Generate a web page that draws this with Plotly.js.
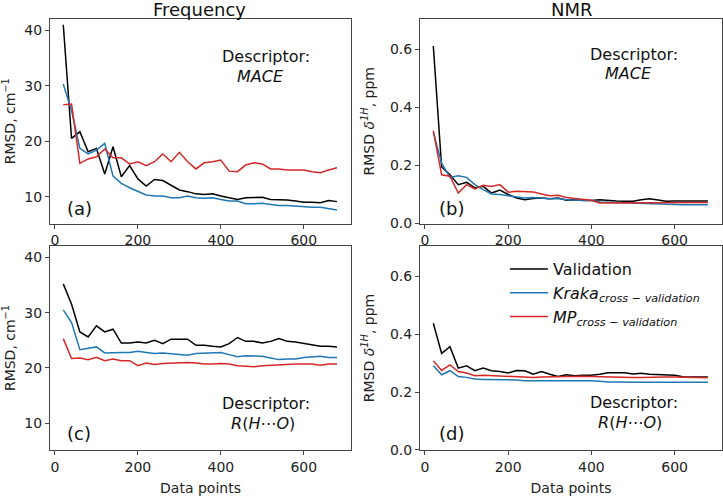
<!DOCTYPE html>
<html>
<head>
<meta charset="utf-8">
<script src="https://cdn.plot.ly/plotly-3.0.1.min.js"></script>
<style>
  html, body { margin: 0; padding: 0; background: #fff; }
  #chart { width: 723px; height: 496px; }
</style>
</head>
<body>
<div id="chart"></div>
<script>
// Training-set sizes (number of data points)
const dataPoints = [20, 40, 60, 80, 100, 120, 140, 160, 180, 200, 220, 240, 260, 280, 300, 320, 340,
                    360, 380, 400, 420, 440, 460, 480, 500, 520, 540, 560, 580, 600, 620, 640, 660, 680];

// Frequency RMSD (cm^-1), MACE descriptor
const freqMaceValidation = [41.0, 20.5, 21.7, 18.1, 18.7, 14.1, 19.0, 13.6, 15.6, 13.2, 11.9, 13.1, 12.9, 12.0, 11.2, 10.9, 10.5,
                            10.4, 10.5, 10.1, 9.8, 9.5, 9.8, 9.8, 9.9, 9.5, 9.5, 9.4, 9.2, 9.0, 9.0, 8.9, 9.3, 9.1];
const freqMaceKraka = [30.3, 25.5, 18.7, 17.7, 18.4, 19.6, 13.7, 12.4, 11.6, 10.9, 10.3, 10.1, 10.1, 9.8, 9.8, 10.1, 9.8,
                       9.7, 9.8, 9.5, 9.2, 9.2, 8.7, 8.7, 8.8, 8.6, 8.4, 8.4, 8.3, 8.1, 8.1, 8.1, 7.9, 7.6];
const freqMaceMP = [26.6, 26.7, 16.0, 16.8, 17.2, 18.6, 17.0, 17.0, 15.9, 16.3, 15.6, 16.3, 17.7, 16.3, 18.0, 16.3, 15.0,
                    16.1, 16.3, 16.6, 14.6, 14.5, 15.7, 16.1, 15.9, 15.0, 15.0, 14.8, 14.8, 14.8, 14.5, 14.3, 14.8, 15.2];

// NMR RMSD of 1H shifts (ppm), MACE descriptor
const nmrMaceValidation = [0.612, 0.195, 0.168, 0.134, 0.142, 0.123, 0.128, 0.105, 0.115, 0.100, 0.088, 0.082, 0.086, 0.088, 0.085, 0.088, 0.080,
                           0.082, 0.079, 0.079, 0.082, 0.079, 0.078, 0.077, 0.077, 0.082, 0.085, 0.081, 0.077, 0.078, 0.078, 0.079, 0.080, 0.078];
const nmrMaceKraka = [0.315, 0.208, 0.159, 0.165, 0.159, 0.134, 0.117, 0.102, 0.100, 0.096, 0.090, 0.088, 0.090, 0.088, 0.085, 0.086, 0.082,
                      0.081, 0.079, 0.079, 0.074, 0.073, 0.071, 0.072, 0.071, 0.070, 0.069, 0.068, 0.065, 0.065, 0.065, 0.065, 0.065, 0.065];
const nmrMaceMP = [0.320, 0.168, 0.163, 0.105, 0.134, 0.119, 0.132, 0.128, 0.134, 0.108, 0.111, 0.111, 0.109, 0.102, 0.096, 0.097, 0.090,
                   0.086, 0.082, 0.080, 0.071, 0.071, 0.070, 0.070, 0.070, 0.070, 0.070, 0.070, 0.070, 0.070, 0.071, 0.071, 0.072, 0.072];

// Frequency RMSD (cm^-1), R(H...O) descriptor
const freqRhoValidation = [35.2, 31.5, 26.5, 25.6, 27.6, 26.5, 27.0, 24.5, 24.5, 24.7, 24.5, 25.0, 24.4, 25.2, 25.2, 25.2, 24.1,
                           24.1, 23.9, 23.8, 24.4, 25.5, 24.8, 24.8, 24.5, 24.8, 25.3, 24.8, 24.7, 24.4, 24.1, 23.9, 23.9, 23.8];
const freqRhoKraka = [30.5, 28.2, 23.3, 23.5, 23.8, 22.7, 22.8, 22.8, 22.8, 23.0, 22.8, 22.6, 22.7, 22.6, 22.4, 22.3, 22.6,
                      22.7, 22.8, 22.8, 22.4, 22.0, 22.2, 22.2, 22.1, 21.8, 21.5, 21.6, 21.6, 21.9, 22.0, 22.1, 21.9, 21.9];
const freqRhoMP = [25.3, 21.7, 21.8, 21.5, 21.9, 21.3, 21.6, 21.3, 21.3, 20.4, 20.9, 20.6, 20.8, 20.9, 21.0, 21.0, 20.9,
                   20.7, 20.7, 20.8, 20.7, 20.4, 20.3, 20.2, 20.4, 20.5, 20.6, 20.7, 20.7, 20.7, 20.7, 20.5, 20.7, 20.7];

// NMR RMSD of 1H shifts (ppm), R(H...O) descriptor
const nmrRhoValidation = [0.438, 0.334, 0.357, 0.283, 0.291, 0.274, 0.283, 0.274, 0.271, 0.266, 0.275, 0.274, 0.262, 0.271, 0.262, 0.254, 0.260,
                          0.257, 0.258, 0.258, 0.262, 0.267, 0.267, 0.267, 0.263, 0.265, 0.262, 0.261, 0.260, 0.258, 0.253, 0.252, 0.252, 0.252];
const nmrRhoKraka = [0.291, 0.260, 0.274, 0.254, 0.251, 0.245, 0.244, 0.244, 0.244, 0.243, 0.242, 0.239, 0.239, 0.241, 0.241, 0.241, 0.241,
                     0.241, 0.239, 0.239, 0.238, 0.235, 0.235, 0.234, 0.234, 0.234, 0.234, 0.234, 0.234, 0.235, 0.236, 0.236, 0.235, 0.234];
const nmrRhoMP = [0.308, 0.275, 0.294, 0.271, 0.266, 0.257, 0.258, 0.257, 0.255, 0.254, 0.254, 0.251, 0.251, 0.252, 0.253, 0.253, 0.255,
                  0.255, 0.255, 0.254, 0.253, 0.252, 0.252, 0.251, 0.251, 0.251, 0.252, 0.252, 0.252, 0.252, 0.251, 0.251, 0.250, 0.250];

// Axis tick labels
const freqTicks = [10, 20, 30, 40];
const nmrTicks = [0.0, 0.2, 0.4, 0.6];
const pointTicks = [0, 200, 400, 600];

// Series names and colours
const seriesNames = ['Validation',
                     '<i>Kraka</i><sub><i>cross \u2212 validation</i></sub>',
                     '<i>MP</i><sub><i>cross \u2212 validation</i></sub>'];
const seriesColors = ['#000000', '#1f77b4', '#d62728'];

const FONT = 'DejaVu Sans, Liberation Sans, sans-serif';

function panelTraces(series, xa, ya, withLegend) {
  return series.map((vals, i) => ({
    type: 'scatter', mode: 'lines',
    x: dataPoints, y: vals,
    xaxis: xa, yaxis: ya,
    name: seriesNames[i],
    legendgroup: 's' + i,
    showlegend: withLegend,
    line: { color: seriesColors[i], width: 1.5 },
    hoverinfo: 'x+y'
  }));
}

const traces = [
  ...panelTraces([freqMaceValidation, freqMaceKraka, freqMaceMP], 'x', 'y', false),
  ...panelTraces([nmrMaceValidation, nmrMaceKraka, nmrMaceMP], 'x2', 'y2', false),
  ...panelTraces([freqRhoValidation, freqRhoKraka, freqRhoMP], 'x3', 'y3', false),
  ...panelTraces([nmrRhoValidation, nmrRhoKraka, nmrRhoMP], 'x4', 'y4', true)
];

const frame = {
  showline: true, mirror: true, linecolor: '#444', linewidth: 1,
  ticks: 'outside', ticklen: 4, tickwidth: 1, tickcolor: '#444',
  showgrid: false, zeroline: false, automargin: false,
  tickfont: { family: FONT, size: 14, color: '#222' }
};

function xAxis(domain, anchor, withTitle) {
  const ax = Object.assign({}, frame, {
    domain: domain, anchor: anchor, range: [-12, 714],
    tickmode: 'array', tickvals: pointTicks, ticktext: pointTicks.map(String)
  });
  if (withTitle) {
    ax.title = { text: 'Data points', font: { family: FONT, size: 14, color: '#222' }, standoff: 10 };
  }
  return ax;
}

function yAxis(domain, anchor, range, ticks, digits, title, standoff) {
  return Object.assign({}, frame, {
    domain: domain, anchor: anchor, range: range,
    tickmode: 'array', tickvals: ticks, ticktext: ticks.map(v => v.toFixed(digits)),
    title: { text: title, font: { family: FONT, size: 14, color: '#222' }, standoff: standoff }
  });
}

const leftCol = [0, 0.448];
const rightCol = [0.5506, 1];
const topRow = [0.5255, 1];
const bottomRow = [0, 0.4733];

const freqTitle = 'RMSD, cm<sup>\u22121</sup>';
const nmrTitle = 'RMSD <i>\u03b4</i><sup><i>1H</i></sup>, ppm';

function label(text, xref, yref, x, y, size, xanchor) {
  return { text: text, xref: xref, yref: yref, x: x, y: y, showarrow: false,
           xanchor: xanchor || 'center', yanchor: 'middle',
           font: { family: FONT, size: size, color: '#111' } };
}

const annotations = [
  label('Frequency', 'paper', 'paper', 0.2232, 1.0209, 18),
  label('NMR', 'paper', 'paper', 0.7765, 1.0209, 18),

  label('Descriptor:', 'x domain', 'y domain', 0.719, 0.816, 16),
  label('<i>MACE</i>', 'x domain', 'y domain', 0.699, 0.721, 16),
  label('(a)', 'x domain', 'y domain', 0.05, 0.071, 18, 'left'),

  label('Descriptor:', 'x2 domain', 'y2 domain', 0.710, 0.826, 16),
  label('<i>MACE</i>', 'x2 domain', 'y2 domain', 0.690, 0.734, 16),
  label('(b)', 'x2 domain', 'y2 domain', 0.055, 0.075, 18, 'left'),

  label('Descriptor:', 'x3 domain', 'y3 domain', 0.719, 0.226, 16),
  label('<i>R</i>(<i>H</i>\u22ef<i>O</i>)', 'x3 domain', 'y3 domain', 0.708, 0.131, 16),
  label('(c)', 'x3 domain', 'y3 domain', 0.05, 0.079, 18, 'left'),

  label('Descriptor:', 'x4 domain', 'y4 domain', 0.710, 0.231, 16),
  label('<i>R</i>(<i>H</i>\u22ef<i>O</i>)', 'x4 domain', 'y4 domain', 0.697, 0.136, 16),
  label('(d)', 'x4 domain', 'y4 domain', 0.055, 0.079, 18, 'left')
];

const layout = {
  width: 723, height: 496,
  margin: { l: 50, r: 1, t: 19, b: 46 },
  paper_bgcolor: '#fff', plot_bgcolor: '#fff',
  font: { family: FONT, size: 14, color: '#222' },
  showlegend: true,
  legend: {
    x: 0.677, y: 0.4593, xanchor: 'left', yanchor: 'top',
    bgcolor: 'rgba(0,0,0,0)', borderwidth: 0,
    font: { family: FONT, size: 16, color: '#111' },
    traceorder: 'normal', itemwidth: 38
  },
  xaxis: xAxis(leftCol, 'y', false),
  yaxis: yAxis(topRow, 'x', [5.15, 42.05], freqTicks, 0, freqTitle, 8),
  xaxis2: xAxis(rightCol, 'y2', false),
  yaxis2: yAxis(topRow, 'x2', [0, 0.705], nmrTicks, 1, nmrTitle, 12),
  xaxis3: xAxis(leftCol, 'y3', true),
  yaxis3: yAxis(bottomRow, 'x3', [5.15, 42.05], freqTicks, 0, freqTitle, 8),
  xaxis4: xAxis(rightCol, 'y4', true),
  yaxis4: yAxis(bottomRow, 'x4', [0, 0.705], nmrTicks, 1, nmrTitle, 12),
  annotations: annotations
};

Plotly.newPlot('chart', traces, layout, { displayModeBar: false, staticPlot: true });
</script>
</body>
</html>
